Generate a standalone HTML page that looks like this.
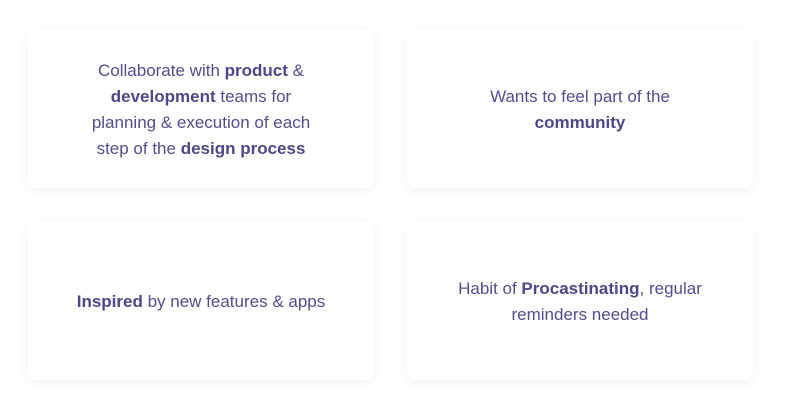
<!DOCTYPE html>
<html><head><style>
html,body{margin:0;padding:0;background:#fff;}
body{width:786px;height:412px;position:relative;overflow:hidden;font-family:"Liberation Sans",sans-serif;}
.c{position:absolute;box-sizing:border-box;padding-top:2px;width:346px;height:159px;background:#fff;border-radius:9px;box-shadow:0 2px 14px rgba(0,0,0,0.06);display:flex;align-items:center;justify-content:center;text-align:center;color:#514f8e;font-size:17px;line-height:26px;}
b{font-weight:bold;color:#4b4988;}
</style></head><body>
<div class="c" style="left:28px;top:29px;"><div>Collaborate with <b>product</b> &amp;<br><b>development</b> teams for<br>planning &amp; execution of each<br>step of the <b>design process</b></div></div>
<div class="c" style="left:407px;top:29px;"><div>Wants to feel part of the<br><b>community</b></div></div>
<div class="c" style="left:28px;top:221px;"><div><b>Inspired</b> by new features &amp; apps</div></div>
<div class="c" style="left:407px;top:221px;"><div>Habit of <b>Procastinating</b>, regular<br>reminders needed</div></div>
</body></html>
